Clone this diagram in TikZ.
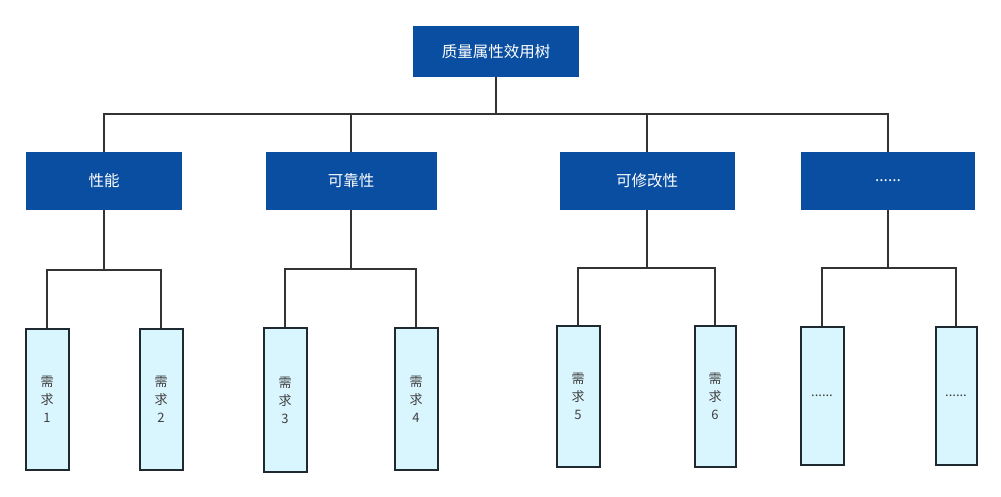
\documentclass[tikz,border=0pt]{standalone}
\usepackage{fontspec}
\newfontfamily\cjk{Noto Sans CJK SC}
\usepackage{xcolor}
\usepackage{tikz}
\usetikzlibrary{positioning}
\usetikzlibrary{calc}
\definecolor{attrblue}{HTML}{0A4EA2}
\definecolor{reqfill}{HTML}{D9F5FE}
\definecolor{reqline}{HTML}{1F2A30}
\definecolor{linkgray}{HTML}{333333}

\begin{document}
\begin{tikzpicture}[x=1pt, y=-1pt, attr/.style ={rectangle, fill = attrblue, text = white, font=\cjk\fontsize{15.5}{18}\selectfont, minimum height=58pt, inner sep=0pt}, req/.style={rectangle, draw = reqline, line width=2pt, fill = reqfill, text = black!75, font=\cjk\fontsize{13}{18}\selectfont, align=center, minimum width=43pt, minimum height=141pt, inner sep=0pt}, link/.style={draw = linkgray, line width=2pt}]
\useasboundingbox (0,0) rectangle (1001,497);
\node[attr, minimum width=166pt, minimum height=51pt] (root) at (496,51.5) {质量属性效用树};
\node[attr, minimum width=156pt] (perf) at (104,181) {性能};
\node[attr, minimum width=171pt] (rel) at (351,181) {可靠性};
\node[attr, minimum width=175pt] (mod) at (647,181) {可修改性};
\node[attr, minimum width=174pt] (etc) at (888,181) {......};
\node[req] (r1) at (47,399.5) {需\\求\\1};
\node[req] (r2) at (161,399.5) {需\\求\\2};
\node[req, minimum height=144pt] (r3) at (285,400) {需\\求\\3};
\node[req, minimum height=142pt] (r4) at (416,399) {需\\求\\4};
\node[req] (r5) at (578,396.5) {需\\求\\5};
\node[req, minimum width=41pt] (r6) at (715,396) {需\\求\\6};
\node[req, minimum height=138pt] (r7) at (822,396) {......};
\node[req, minimum width=41pt, minimum height=138pt] (r8) at (956,396) {......};
\path[link] (root.south) -- ++(0,37) -| (perf.north)
(root.south) -- ++(0,37) -| (rel.north)
(root.south) -- ++(0,37) -| (mod.north)
(root.south) -- ++(0,37) -| (etc.north);
\path[link] (perf.south) -- ++(0,60) -| (r1.north)
(perf.south) -- ++(0,60) -| (r2.north)
(rel.south) -- ++(0,59) -| (r3.north)
(rel.south) -- ++(0,59) -| (r4.north)
(mod.south) -- ++(0,58) -| (r5.north)
(mod.south) -- ++(0,58) -| (r6.north)
(etc.south) -- ++(0,58) -| (r7.north)
(etc.south) -- ++(0,58) -| (r8.north);
\end{tikzpicture}
\end{document}
